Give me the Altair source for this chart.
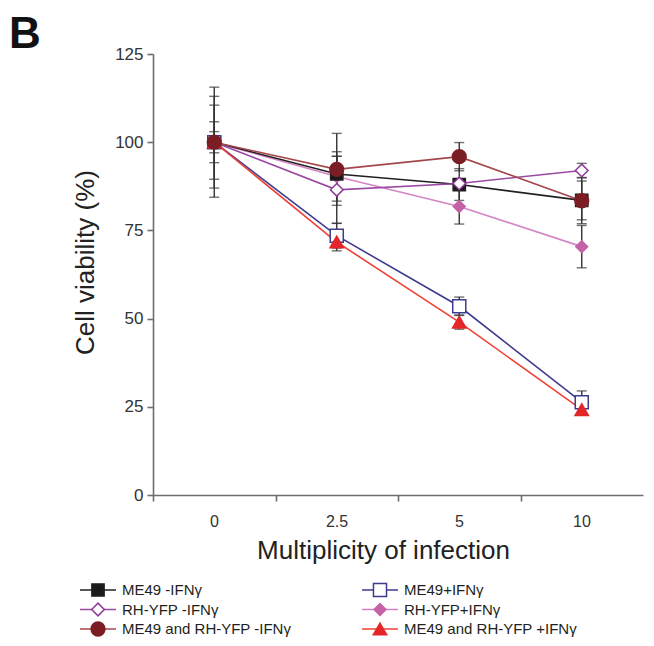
import altair as alt
import pandas as pd

FONT = "Liberation Sans"

moi = ["0", "2.5", "5", "10"]

# drawing order (first drawn at the bottom)
series = ["RH-YFP+IFNγ", "ME49 -IFNγ", "RH-YFP -IFNγ", "ME49+IFNγ",
          "ME49 and RH-YFP +IFNγ", "ME49 and RH-YFP -IFNγ"]

rh_plus = [100, 90.3, 81.8, 70.4]
me49_minus = [100, 91, 88, 83.5]
rh_minus = [100, 86.5, 88.3, 92]
me49_plus = [100, 73.5, 53.5, 26.3]
both_plus = [100, 71.7, 49, 24.2]
both_minus = [100, 92.3, 95.9, 83.4]

rh_plus_err = [15.6, 7, 5, 6]
me49_minus_err = [3, 5, 4.5, 5.5]
rh_minus_err = [13, 9.5, 1.0, 2]
me49_plus_err = [10.5, 3.5, 2.6, 3.2]
both_plus_err = [1, 2.5, 2, 1]
both_minus_err = [5.8, 10.2, 4, 6.5]

all_vals = [rh_plus, me49_minus, rh_minus, me49_plus, both_plus, both_minus]
all_errs = [rh_plus_err, me49_minus_err, rh_minus_err, me49_plus_err, both_plus_err, both_minus_err]

line_colors = ["#d485c6", "#231f20", "#9a4aa3", "#3d3c8f", "#ef4136", "#a4474c"]
stroke_colors = ["#c462a8", "#231f20", "#8e3a96", "#3d3c8f", "#e3262a", "#7b1e23"]
fill_colors = ["#c462a8", "#1a1a1a", "#ffffff", "#ffffff", "#e3262a", "#7b1e23"]
shapes = ["diamond", "square", "diamond", "square", "triangle-up", "circle"]
sizes = [140, 190, 120, 165, 90, 200]

# legend layout (column, row)
legend_col = [1, 0, 0, 1, 1, 0]
legend_row = [1, 0, 1, 0, 2, 2]

panel_label = ["B"]

rows = []
for k, (s, vals, errs) in enumerate(zip(series, all_vals, all_errs)):
    for i, (m, v, e) in enumerate(zip(moi, vals, errs)):
        rows.append(dict(series=s, sidx=k, idx=i, moi=m, v=v, lo=v - e, hi=v + e))
df = pd.DataFrame(rows)

leg_df = pd.DataFrame(dict(series=series, lcol=legend_col, lrow=legend_row))

label_expr = "[" + ",".join("'" + m + "'" for m in moi) + "][round(datum.value + 0.5)]"

axis_common = dict(
    grid=False, domainColor="#6d6d6d", domainWidth=1.6, tickColor="#6d6d6d",
    tickWidth=1.6, tickSize=6, labelFont=FONT, labelColor="#333333",
    titleFont=FONT, titleFontSize=26, titleFontWeight="normal", titleColor="#222222",
)

x_axis = alt.Axis(values=[-0.5, 0.5, 1.5, 2.5], labelExpr=label_expr, labelFontSize=16,
                  labelOffset=61, labelFlush=False, labelPadding=12,
                  title="Multiplicity of infection", titleX=230, titleY=63,
                  titleBaseline="alphabetic", **axis_common)
x_enc = alt.X("idx:Q", scale=alt.Scale(domain=[-0.5, 3.5], nice=False, zero=False), axis=x_axis)

y_scale = alt.Scale(domain=[0, 125], nice=False)
y_axis = alt.Axis(values=[0, 25, 50, 75, 100, 125], labelPadding=4, labelFontSize=17,
                  title="Cell viability (%)", titleX=-60, titleY=208,
                  titleBaseline="alphabetic", **axis_common)

color_enc = alt.Color("series:N", scale=alt.Scale(domain=series, range=line_colors), legend=None)
stroke_enc = alt.Stroke("series:N", scale=alt.Scale(domain=series, range=stroke_colors), legend=None)
fill_enc = alt.Fill("series:N", scale=alt.Scale(domain=series, range=fill_colors), legend=None)
shape_enc = alt.Shape("series:N", scale=alt.Scale(domain=series, range=shapes), legend=None)
size_enc = alt.Size("series:N", scale=alt.Scale(domain=series, range=sizes), legend=None)

base = alt.Chart(df)

err_rule = base.mark_rule(color="#333333", strokeWidth=1.4).encode(
    x=x_enc, y=alt.Y("lo:Q", scale=y_scale, axis=y_axis), y2="hi:Q")
cap_lo = base.mark_tick(orient="horizontal", size=10, thickness=1.4, color="#333333").encode(
    x="idx:Q", y="lo:Q")
cap_hi = base.mark_tick(orient="horizontal", size=10, thickness=1.4, color="#333333").encode(
    x="idx:Q", y="hi:Q")

lines = base.mark_line(strokeWidth=1.6).encode(
    x="idx:Q", y="v:Q", color=color_enc, detail="series:N", order="idx:Q")

points = base.mark_point(filled=True, opacity=1, strokeWidth=1.5).encode(
    x="idx:Q", y="v:Q", shape=shape_enc, fill=fill_enc, stroke=stroke_enc, size=size_enc,
    order=alt.Order("sidx:Q"))

main = alt.layer(err_rule, cap_lo, cap_hi, lines, points)

lbase = alt.Chart(leg_df)
lx = alt.X("lcol:Q", scale=alt.Scale(domain=[0, 1], range=[-55, 227], nice=False, zero=False), axis=None)
ly = alt.Y("lrow:Q", scale=alt.Scale(domain=[0, 2], range=[536, 575], nice=False, zero=False), axis=None)

leg_line = lbase.mark_rule(strokeWidth=1.6, xOffset=-18, x2Offset=18).encode(
    x=lx, x2="lcol:Q", y=ly, color=color_enc)
leg_pt = lbase.mark_point(filled=True, opacity=1, strokeWidth=1.5).encode(
    x="lcol:Q", y="lrow:Q", shape=shape_enc, fill=fill_enc, stroke=stroke_enc, size=size_enc)
leg_txt = lbase.mark_text(align="left", baseline="middle", dx=24, font=FONT, fontSize=15,
                          color="#231f20").encode(x="lcol:Q", y="lrow:Q", text="series:N")

legend = alt.layer(leg_line, leg_pt, leg_txt)

panel = alt.Chart(pd.DataFrame({"panel": panel_label})).mark_text(
    align="left", baseline="alphabetic", font=FONT, fontSize=44, fontWeight="bold",
    color="#111111").encode(text="panel:N", x=alt.value(-144), y=alt.value(-6))

chart = alt.layer(main, legend, panel).resolve_scale(
    x="independent", y="independent"
).properties(
    width=490, height=441,
    autosize=alt.AutoSizeParams(type="none"),
    padding={"left": 145, "top": 46, "right": 3, "bottom": 143},
).configure_view(stroke=None)

chart.save("out.html", embed_options={"renderer": "svg", "actions": False})
